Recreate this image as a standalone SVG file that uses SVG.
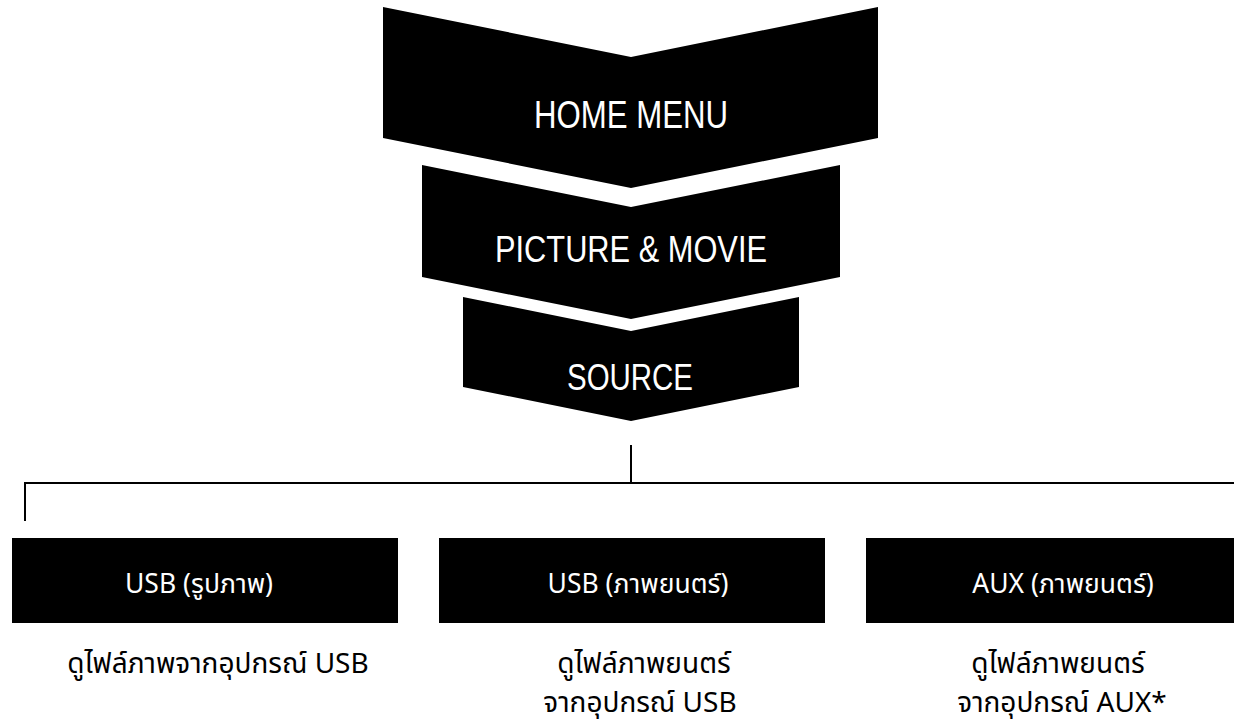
<svg xmlns="http://www.w3.org/2000/svg" width="1234" height="722" viewBox="0 0 1234 722">
<style>
.chev{fill:#000}
.ct{fill:#fff;font-family:"Liberation Sans",Arial,sans-serif;text-anchor:middle}
.box{fill:#000}
.lbl{fill:#fff;font-family:"Noto Sans","Noto Sans Thai",Tahoma,sans-serif;font-size:26.5px;text-anchor:middle}
.desc{fill:#000;font-family:"Noto Sans","Noto Sans Thai",Tahoma,sans-serif;font-size:28px;text-anchor:middle}
.conn{stroke:#000;stroke-width:2;fill:none}
</style>
<rect width="1234" height="722" fill="#fff"/>
<g id="home-menu">
<polygon class="chev" points="383,7 631,57 878,7 878,138 631,188 383,138"/>
<text class="ct" x="631" y="128" font-size="39" textLength="194" lengthAdjust="spacingAndGlyphs">HOME MENU</text>
</g>
<g id="picture-movie">
<polygon class="chev" points="422,165 631,207 840,165 840,277 631,319 422,277"/>
<text class="ct" x="631" y="262" font-size="37.5" textLength="272" lengthAdjust="spacingAndGlyphs">PICTURE &amp; MOVIE</text>
</g>
<g id="source">
<polygon class="chev" points="463,297 631,331 799,297 799,387 631,421 463,387"/>
<text class="ct" x="630" y="390" font-size="36" textLength="126" lengthAdjust="spacingAndGlyphs">SOURCE</text>
</g>
<g id="connectors">
<line class="conn" x1="631" y1="445" x2="631" y2="483"/>
<line class="conn" x1="25" y1="483" x2="1234" y2="483"/>
<line class="conn" x1="25" y1="482" x2="25" y2="521"/>
</g>
<g id="usb-picture">
<rect class="box" x="12" y="538" width="386" height="85"/>
<text class="lbl" x="199" y="593">USB (รูปภาพ)</text>
<text class="desc" x="218" y="673">ดูไฟล์ภาพจากอุปกรณ์ USB</text>
</g>
<g id="usb-movie">
<rect class="box" x="439" y="538" width="386" height="85"/>
<text class="lbl" x="638" y="593">USB (ภาพยนตร์)</text>
<text class="desc" x="644" y="673">ดูไฟล์ภาพยนตร์</text>
<text class="desc" x="640" y="712">จากอุปกรณ์ USB</text>
</g>
<g id="aux-movie">
<rect class="box" x="866" y="538" width="386" height="85"/>
<text class="lbl" x="1063" y="593">AUX (ภาพยนตร์)</text>
<text class="desc" x="1058" y="673">ดูไฟล์ภาพยนตร์</text>
<text class="desc" x="1062" y="712">จากอุปกรณ์ AUX*</text>
</g>
</svg>
